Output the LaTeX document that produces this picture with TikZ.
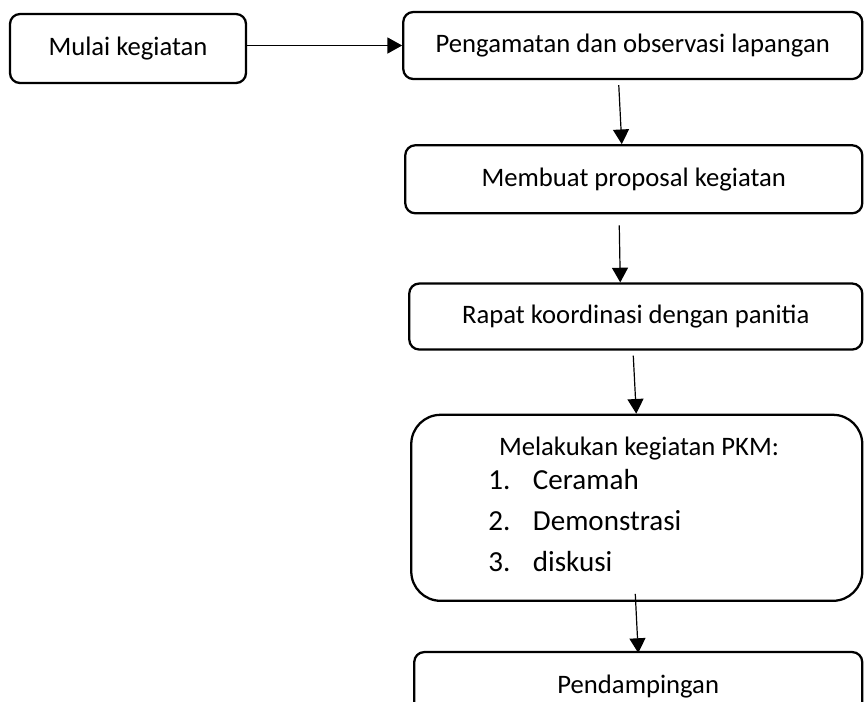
\documentclass[tikz,border=0pt]{standalone}
\usepackage{fontspec}
\setmainfont{Carlito}
\usetikzlibrary{arrows.meta, positioning}
\tikzset{
    base/.style = {
        draw=black, line width=1.7pt, text centered, inner sep=0pt,
        font=\fontsize{20}{24}\selectfont
    },
    % Boxes
    stepbox/.style = {base, rectangle, rounded corners=7.5pt},
    listbox/.style = {base, rectangle, rounded corners=22pt},
    % Texts inside the PKM box
    head/.style = {inner sep=0pt, anchor=base, font=\fontsize{20}{24}\selectfont},
    listitem/.style = {inner sep=0pt, anchor=base west, font=\fontsize{21.8}{24}\selectfont},
    % Edges
    arrow/.style = {line width=0.9pt, -{Triangle[length=11pt,width=12pt]}}
}
\begin{document}
\begin{tikzpicture}[x=0.75pt, y=-0.75pt]
    \clip (0,0) rectangle (864,701);

    % Nodes
    \node (mulai) [stepbox, minimum width=177pt, minimum height=51.75pt] at (128,48.5) {Mulai kegiatan};
    \node (observasi) [stepbox, minimum width=344.25pt, minimum height=50.25pt, right=116.25pt of mulai, yshift=2.25pt] {Pengamatan dan observasi lapangan};
    \node (proposal) [stepbox, minimum width=342.75pt, minimum height=51pt, below=48pt of observasi, xshift=0.75pt] {Membuat proposal kegiatan};
    \node (rapat) [stepbox, minimum width=339.75pt, minimum height=49.5pt, below=51pt of proposal, xshift=1.5pt] {Rapat koordinasi dengan panitia};
    \node (pkm) [listbox, minimum width=338.25pt, minimum height=139.5pt, below=47.25pt of rapat, xshift=0.75pt] {};
    \node (pendampingan) [stepbox, minimum width=336pt, minimum height=51pt, below=36.75pt of pkm, xshift=1.1pt] {Pendampingan};

    % Text of the PKM box
    \node (pkmhead) [head] at (639,455) {Melakukan kegiatan PKM:};
    \node (ceramah) [listitem] at (488,489) {\makebox[33.5pt][l]{1.}Ceramah};
    \node (demo) [listitem] at (488,530) {\makebox[33.5pt][l]{2.}Demonstrasi};
    \node (diskusi) [listitem] at (488,571) {\makebox[33.5pt][l]{3.}diskusi};

    % Edges
    \draw [arrow] (mulai.east |- observasi.west) -- (observasi.west);
    \draw [arrow] ([shift={(-14,5)}]observasi.south) -- ([shift={(-12,0)}]proposal.north);
    \draw [arrow] ([shift={(-14.5,11)}]proposal.south) -- ([shift={(-15.5,0)}]rapat.north);
    \draw [arrow] ([shift={(-2.5,5)}]rapat.south) -- ([shift={(-0.5,0)}]pkm.north);
    \draw [arrow] ([shift={(-1.5,-8)}]pkm.south) -- ([shift={(0,2)}]pendampingan.north);
\end{tikzpicture}
\end{document}
